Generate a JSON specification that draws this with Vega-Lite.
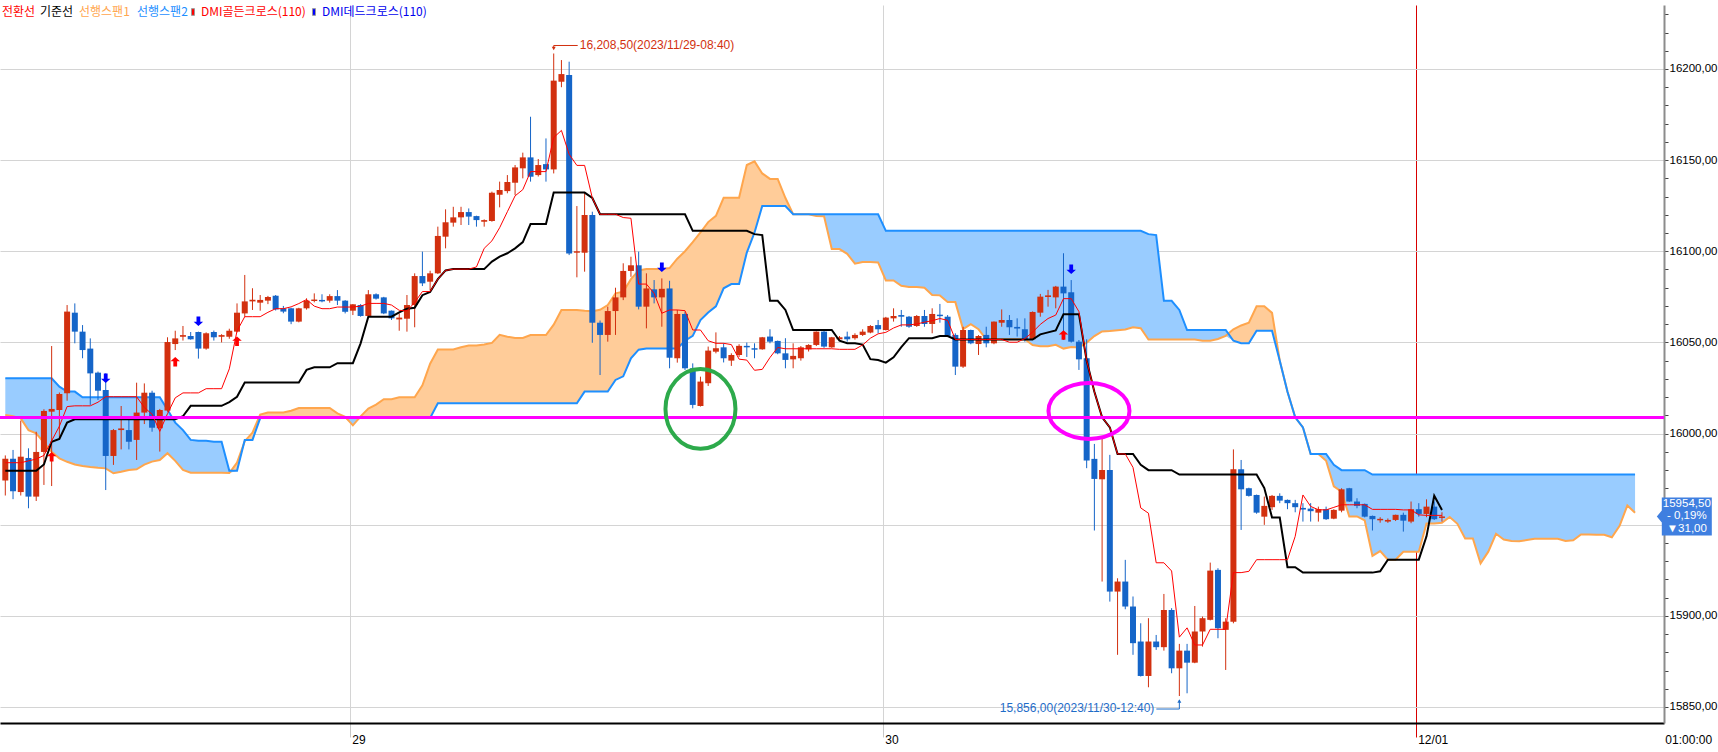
{
"$schema": "https://vega.github.io/schema/vega-lite/v6.json",
"width": 1664,
"height": 718,
"autosize": {"type": "none"},
"padding": {"left": 0, "top": 5, "right": 54, "bottom": 29},
"background": "#FFFFFF",
"config": {"view": {"stroke": null}},
"resolve": {"scale": {"color": "independent"}},
"datasets": {
"candles": [
{"i":0,"o":15974.2,"h":15988,"l":15966,"c":15986.2,"cv":15984,"bs":15979.6},
{"i":1,"o":15986.2,"h":15991,"l":15964,"c":15968.3,"cv":15984,"bs":15979.6},
{"i":2,"o":15967.9,"h":16007.1,"l":15966,"c":15987.3,"cv":15984,"bs":15979.6},
{"i":3,"o":15986.6,"h":15991.9,"l":15959,"c":15965.4,"cv":15985,"bs":15979.6},
{"i":4,"o":15965.4,"h":16001,"l":15963,"c":15989.9,"cv":15986,"bs":15979.6},
{"i":5,"o":15989.9,"h":16013.3,"l":15971.8,"c":16012.4,"cv":15988,"bs":15983},
{"i":6,"o":16012.0,"h":16048,"l":15971.2,"c":16013.5,"cv":15996,"bs":15995.5},
{"i":7,"o":16012.9,"h":16022.5,"l":15997.4,"c":16021.7,"cv":16004,"bs":15997},
{"i":8,"o":16022.1,"h":16070.5,"l":16018,"c":16066.9,"cv":16014.8,"bs":16006},
{"i":9,"o":16066.3,"h":16071.4,"l":16049.5,"c":16055.9,"cv":16015.2,"bs":16007.8},
{"i":10,"o":16055.9,"h":16059.5,"l":16041.3,"c":16045.8,"cv":16015.2,"bs":16007.8},
{"i":11,"o":16046.6,"h":16052.2,"l":16015.7,"c":16033.0,"cv":16015.2,"bs":16007.8},
{"i":12,"o":16033.4,"h":16034,"l":16018.4,"c":16023.5,"cv":16017.2,"bs":16007.8},
{"i":13,"o":16023.9,"h":16033,"l":15969,"c":15987.7,"cv":16020.2,"bs":16007.8},
{"i":14,"o":15987.7,"h":16002.5,"l":15982.8,"c":16001.9,"cv":16020.2,"bs":16007.8},
{"i":15,"o":16001.9,"h":16015.1,"l":15991.3,"c":16002.8,"cv":16020.2,"bs":16007.8},
{"i":16,"o":16001.9,"h":16008,"l":15991.3,"c":15995.5,"cv":16020.2,"bs":16007.8},
{"i":17,"o":15996.5,"h":16027.9,"l":15985.5,"c":16011.5,"cv":16020.2,"bs":16007.8},
{"i":18,"o":16011.5,"h":16027.5,"l":16005.2,"c":16022.4,"cv":16014.3,"bs":16007.8},
{"i":19,"o":16022.4,"h":16023.5,"l":16001,"c":16003.2,"cv":16010.6,"bs":16007.8},
{"i":20,"o":16002.9,"h":16013.5,"l":15990.1,"c":16012.9,"cv":16001.2,"bs":16007.8},
{"i":21,"o":16012.6,"h":16052.8,"l":16012,"c":16050.2,"cv":16010.9,"bs":16007.8},
{"i":22,"o":16049.1,"h":16056.4,"l":16045.8,"c":16052.2,"cv":16019.6,"bs":16007.8},
{"i":23,"o":16053.1,"h":16059,"l":16051,"c":16054.0,"cv":16022.3,"bs":16009.5},
{"i":24,"o":16053.5,"h":16055.7,"l":16051.5,"c":16051.7,"cv":16022.3,"bs":16015.2},
{"i":25,"o":16055.7,"h":16055.9,"l":16041.1,"c":16046.6,"cv":16022.3,"bs":16015.2},
{"i":26,"o":16046.6,"h":16055.5,"l":16046,"c":16055.0,"cv":16024.6,"bs":16015.2},
{"i":27,"o":16055.7,"h":16056.5,"l":16051,"c":16052.8,"cv":16024.6,"bs":16015.2},
{"i":28,"o":16053.1,"h":16054.5,"l":16050,"c":16054.0,"cv":16024.6,"bs":16015.2},
{"i":29,"o":16053.1,"h":16057.5,"l":16052,"c":16056.4,"cv":16035.5,"bs":16017.2},
{"i":30,"o":16055.9,"h":16071.4,"l":16055.5,"c":16066.3,"cv":16056.3,"bs":16020.2},
{"i":31,"o":16065.9,"h":16087,"l":16064,"c":16072.5,"cv":16064.1,"bs":16028.0},
{"i":32,"o":16072.5,"h":16079.7,"l":16067.8,"c":16073.4,"cv":16064.1,"bs":16028.0},
{"i":33,"o":16071.8,"h":16076,"l":16067.4,"c":16073.3,"cv":16064.1,"bs":16028.0},
{"i":34,"o":16072.9,"h":16075.5,"l":16071,"c":16074.9,"cv":16066.5,"bs":16028.0},
{"i":35,"o":16075.6,"h":16076,"l":16067.5,"c":16068.1,"cv":16068.5,"bs":16028.0},
{"i":36,"o":16068.7,"h":16070,"l":16066,"c":16066.9,"cv":16068.5,"bs":16028.0},
{"i":37,"o":16068.7,"h":16069,"l":16060,"c":16061.4,"cv":16069.5,"bs":16028.0},
{"i":38,"o":16061.4,"h":16069,"l":16061,"c":16068.7,"cv":16071.3,"bs":16028.0},
{"i":39,"o":16068.7,"h":16074.2,"l":16068,"c":16072.9,"cv":16073.5,"bs":16034.9},
{"i":40,"o":16072.7,"h":16076.9,"l":16072,"c":16073.5,"cv":16069.9,"bs":16036.3},
{"i":41,"o":16073.3,"h":16076.4,"l":16072,"c":16072.5,"cv":16068.5,"bs":16036.3},
{"i":42,"o":16072.9,"h":16076.4,"l":16071.8,"c":16075.4,"cv":16068.5,"bs":16036.3},
{"i":43,"o":16075.4,"h":16078.7,"l":16070.5,"c":16072.9,"cv":16069.4,"bs":16038.6},
{"i":44,"o":16072.9,"h":16073.2,"l":16065.9,"c":16066.8,"cv":16069.4,"bs":16038.6},
{"i":45,"o":16067.4,"h":16071,"l":16065,"c":16070.9,"cv":16069.4,"bs":16038.6},
{"i":46,"o":16070.5,"h":16071,"l":16064.1,"c":16064.5,"cv":16069.9,"bs":16049.5},
{"i":47,"o":16064.5,"h":16078.7,"l":16064,"c":16076.4,"cv":16071.4,"bs":16064.1},
{"i":48,"o":16076.4,"h":16076.9,"l":16073.5,"c":16074.0,"cv":16071.4,"bs":16064.1},
{"i":49,"o":16074.7,"h":16075,"l":16065.5,"c":16065.9,"cv":16071.4,"bs":16064.1},
{"i":50,"o":16067.4,"h":16067.5,"l":16062.3,"c":16063.2,"cv":16070.5,"bs":16064.1},
{"i":51,"o":16062.6,"h":16065.9,"l":16056.4,"c":16063.6,"cv":16067.6,"bs":16066.5},
{"i":52,"o":16063.0,"h":16076,"l":16055.9,"c":16070.5,"cv":16067.3,"bs":16068.5},
{"i":53,"o":16070.5,"h":16087.9,"l":16058.3,"c":16086.4,"cv":16071.9,"bs":16069.0},
{"i":54,"o":16086.4,"h":16099.8,"l":16080.9,"c":16082.4,"cv":16077.9,"bs":16075.9},
{"i":55,"o":16083.3,"h":16089.3,"l":16078.7,"c":16087.9,"cv":16077.9,"bs":16077.7},
{"i":56,"o":16087.9,"h":16113.5,"l":16087.5,"c":16108.4,"cv":16084.7,"bs":16084.7},
{"i":57,"o":16108.0,"h":16123,"l":16101.6,"c":16115.9,"cv":16089.5,"bs":16089.5},
{"i":58,"o":16115.7,"h":16124.4,"l":16113.5,"c":16118.6,"cv":16090.2,"bs":16090.2},
{"i":59,"o":16118.6,"h":16124.4,"l":16114.4,"c":16121.5,"cv":16090.2,"bs":16090.2},
{"i":60,"o":16121.5,"h":16123.5,"l":16114.4,"c":16119.0,"cv":16090.2,"bs":16090.2},
{"i":61,"o":16119.3,"h":16119.5,"l":16113.5,"c":16117.1,"cv":16091.4,"bs":16090.2},
{"i":62,"o":16116.2,"h":16117.5,"l":16113.5,"c":16117.1,"cv":16101.6,"bs":16090.2},
{"i":63,"o":16116.6,"h":16132.7,"l":16116.2,"c":16132.1,"cv":16105.7,"bs":16094.3},
{"i":64,"o":16131.0,"h":16138.2,"l":16124.1,"c":16133.6,"cv":16112.9,"bs":16097.1},
{"i":65,"o":16133.0,"h":16141.8,"l":16131.8,"c":16138.0,"cv":16121.7,"bs":16098.9},
{"i":66,"o":16137.6,"h":16147.3,"l":16130.8,"c":16146.0,"cv":16130.4,"bs":16101.6},
{"i":67,"o":16145.5,"h":16154.1,"l":16140,"c":16151.5,"cv":16133.8,"bs":16105.0},
{"i":68,"o":16151.5,"h":16173.8,"l":16138.2,"c":16140.9,"cv":16143.7,"bs":16114.9},
{"i":69,"o":16141.8,"h":16150.6,"l":16141,"c":16147.3,"cv":16143.7,"bs":16114.9},
{"i":70,"o":16147.8,"h":16161.9,"l":16138.2,"c":16144.9,"cv":16143.7,"bs":16114.9},
{"i":71,"o":16144.9,"h":16208.5,"l":16142.7,"c":16193.6,"cv":16162.4,"bs":16132.2},
{"i":72,"o":16193.0,"h":16204.9,"l":16190,"c":16197.2,"cv":16166.3,"bs":16132.2},
{"i":73,"o":16196.7,"h":16204,"l":16097.9,"c":16098.8,"cv":16153.2,"bs":16132.2},
{"i":74,"o":16099.2,"h":16124.8,"l":16085.7,"c":16100.0,"cv":16147.1,"bs":16132.2},
{"i":75,"o":16099.2,"h":16131.8,"l":16088.8,"c":16119.9,"cv":16147.1,"bs":16132.2},
{"i":76,"o":16119.9,"h":16121.7,"l":16049.8,"c":16060.8,"cv":16129.2,"bs":16129.2},
{"i":77,"o":16060.8,"h":16062,"l":16032.1,"c":16054.1,"cv":16120.3,"bs":16120.3},
{"i":78,"o":16054.1,"h":16069.6,"l":16050.4,"c":16067.2,"cv":16120.3,"bs":16120.3},
{"i":79,"o":16067.2,"h":16080,"l":16054.1,"c":16074.7,"cv":16120.3,"bs":16120.3},
{"i":80,"o":16074.7,"h":16093.4,"l":16073.2,"c":16089.2,"cv":16118.5,"bs":16120.3},
{"i":81,"o":16089.2,"h":16097,"l":16086,"c":16092.3,"cv":16118.1,"bs":16120.3},
{"i":82,"o":16092.3,"h":16099.8,"l":16068.1,"c":16069.6,"cv":16082.0,"bs":16120.3},
{"i":83,"o":16069.6,"h":16087.9,"l":16057.7,"c":16079.6,"cv":16082.0,"bs":16120.3},
{"i":84,"o":16079.1,"h":16084.2,"l":16071.4,"c":16074.7,"cv":16076.9,"bs":16120.3},
{"i":85,"o":16074.7,"h":16085.1,"l":16058.6,"c":16079.4,"cv":16066.0,"bs":16120.3},
{"i":86,"o":16079.6,"h":16083.8,"l":16035.8,"c":16041.6,"cv":16067.8,"bs":16120.3},
{"i":87,"o":16041.3,"h":16067.8,"l":16038.9,"c":16065.6,"cv":16067.8,"bs":16120.3},
{"i":88,"o":16065.6,"h":16066.8,"l":16034.9,"c":16035.8,"cv":16067.4,"bs":16120.3},
{"i":89,"o":16035.8,"h":16038.5,"l":16013.8,"c":16015.7,"cv":16056.8,"bs":16111.2},
{"i":90,"o":16015.1,"h":16031.2,"l":16014.8,"c":16028.5,"cv":16056.8,"bs":16111.2},
{"i":91,"o":16027.6,"h":16047.7,"l":16026.1,"c":16045.5,"cv":16050.9,"bs":16111.2},
{"i":92,"o":16044.9,"h":16055.5,"l":16044,"c":16046.8,"cv":16049.5,"bs":16111.2},
{"i":93,"o":16047.3,"h":16049.5,"l":16039,"c":16041.3,"cv":16049.5,"bs":16111.2},
{"i":94,"o":16040.0,"h":16044,"l":16037.1,"c":16043.1,"cv":16048.8,"bs":16111.2},
{"i":95,"o":16043.1,"h":16049,"l":16042,"c":16048.1,"cv":16040.8,"bs":16111.2},
{"i":96,"o":16048.1,"h":16049.9,"l":16042,"c":16047.3,"cv":16040.3,"bs":16111.2},
{"i":97,"o":16046.8,"h":16049.5,"l":16041.3,"c":16046.0,"cv":16034.7,"bs":16109.4},
{"i":98,"o":16046.2,"h":16053,"l":16046,"c":16052.8,"cv":16035.2,"bs":16108.9},
{"i":99,"o":16053.2,"h":16057.2,"l":16049.5,"c":16050.4,"cv":16041.7,"bs":16072.8},
{"i":100,"o":16050.8,"h":16051,"l":16043.5,"c":16044.0,"cv":16047.2,"bs":16072.8},
{"i":101,"o":16044.0,"h":16052.3,"l":16035.8,"c":16040.4,"cv":16046.5,"bs":16067.8},
{"i":102,"o":16040.7,"h":16049.5,"l":16035.8,"c":16042.6,"cv":16046.5,"bs":16056.8},
{"i":103,"o":16041.3,"h":16048,"l":16040,"c":16047.3,"cv":16046.5,"bs":16056.8},
{"i":104,"o":16046.2,"h":16049,"l":16045,"c":16048.6,"cv":16046.5,"bs":16056.8},
{"i":105,"o":16048.6,"h":16056,"l":16048,"c":16055.9,"cv":16046.5,"bs":16056.8},
{"i":106,"o":16055.9,"h":16056.5,"l":16047,"c":16047.7,"cv":16046.5,"bs":16056.8},
{"i":107,"o":16047.3,"h":16053,"l":16047,"c":16052.8,"cv":16046.5,"bs":16056.8},
{"i":108,"o":16051.7,"h":16053.5,"l":16051,"c":16052.8,"cv":16046.2,"bs":16050.9},
{"i":109,"o":16053.2,"h":16055.9,"l":16050.4,"c":16051.7,"cv":16046.2,"bs":16049.5},
{"i":110,"o":16052.3,"h":16055,"l":16051.5,"c":16054.1,"cv":16046.2,"bs":16049.5},
{"i":111,"o":16054.1,"h":16057.2,"l":16053.5,"c":16055.9,"cv":16048.6,"bs":16048.8},
{"i":112,"o":16055.4,"h":16059.5,"l":16055,"c":16059.0,"cv":16052.3,"bs":16040.8},
{"i":113,"o":16059.5,"h":16062.3,"l":16055,"c":16057.2,"cv":16054.7,"bs":16040.3},
{"i":114,"o":16056.8,"h":16064,"l":16056.5,"c":16063.6,"cv":16055.5,"bs":16038.9},
{"i":115,"o":16063.2,"h":16068.7,"l":16061.4,"c":16064.5,"cv":16057.9,"bs":16041.8},
{"i":116,"o":16065.0,"h":16067.8,"l":16058.6,"c":16064.1,"cv":16059.6,"bs":16047.4},
{"i":117,"o":16064.1,"h":16064.5,"l":16058,"c":16058.6,"cv":16059.6,"bs":16052.3},
{"i":118,"o":16059.0,"h":16065,"l":16058.5,"c":16064.5,"cv":16060.1,"bs":16052.3},
{"i":119,"o":16064.5,"h":16067.8,"l":16058.6,"c":16060.1,"cv":16061.1,"bs":16052.3},
{"i":120,"o":16060.1,"h":16068.7,"l":16055,"c":16065.6,"cv":16061.9,"bs":16052.3},
{"i":121,"o":16065.2,"h":16071.1,"l":16060.8,"c":16064.4,"cv":16063.1,"bs":16053.5},
{"i":122,"o":16064.1,"h":16065,"l":16053,"c":16053.5,"cv":16062.1,"bs":16053.5},
{"i":123,"o":16054.1,"h":16055,"l":16032.1,"c":16036.7,"cv":16051.6,"bs":16051.6},
{"i":124,"o":16036.7,"h":16058.6,"l":16036,"c":16056.8,"cv":16051.6,"bs":16051.6},
{"i":125,"o":16056.8,"h":16057,"l":16049,"c":16049.5,"cv":16051.6,"bs":16051.6},
{"i":126,"o":16049.1,"h":16054,"l":16043.1,"c":16053.5,"cv":16051.6,"bs":16051.6},
{"i":127,"o":16054.1,"h":16058.6,"l":16047.3,"c":16049.5,"cv":16051.6,"bs":16051.6},
{"i":128,"o":16049.5,"h":16061.5,"l":16049,"c":16061.4,"cv":16051.6,"bs":16051.6},
{"i":129,"o":16060.8,"h":16068.1,"l":16058.6,"c":16062.3,"cv":16051.6,"bs":16051.6},
{"i":130,"o":16062.3,"h":16065,"l":16054.1,"c":16058.3,"cv":16050.1,"bs":16051.6},
{"i":131,"o":16058.5,"h":16063.2,"l":16053.2,"c":16057.6,"cv":16050.1,"bs":16051.6},
{"i":132,"o":16057.2,"h":16063.2,"l":16050.4,"c":16051.7,"cv":16052.1,"bs":16051.6},
{"i":133,"o":16051.7,"h":16067,"l":16051.5,"c":16066.7,"cv":16055.6,"bs":16051.6},
{"i":134,"o":16066.3,"h":16076.6,"l":16064.1,"c":16075.1,"cv":16059.9,"bs":16054.4},
{"i":135,"o":16074.9,"h":16078.8,"l":16069.6,"c":16075.8,"cv":16063.1,"bs":16055.5},
{"i":136,"o":16074.7,"h":16081,"l":16068.7,"c":16080.6,"cv":16065.0,"bs":16056.6},
{"i":137,"o":16080.6,"h":16098.9,"l":16051.3,"c":16076.9,"cv":16074.0,"bs":16065.5},
{"i":138,"o":16077.5,"h":16084.2,"l":16049.9,"c":16050.4,"cv":16074.0,"bs":16065.5},
{"i":139,"o":16050.4,"h":16051.3,"l":16034.9,"c":16040.7,"cv":16066.9,"bs":16065.5},
{"i":140,"o":16041.3,"h":16051.7,"l":15981,"c":15985.2,"cv":16040.0,"bs":16040.0},
{"i":141,"o":15986.1,"h":15994.3,"l":15946.8,"c":15975.1,"cv":16022.9,"bs":16022.9},
{"i":142,"o":15974.9,"h":15997.4,"l":15918.8,"c":15980.0,"cv":16008.9,"bs":16008.9},
{"i":143,"o":15980.0,"h":15988.3,"l":15907.8,"c":15913.3,"cv":16003.4,"bs":16003.4},
{"i":144,"o":15913.3,"h":15920.6,"l":15878.6,"c":15918.8,"cv":15988.8,"bs":15988.8},
{"i":145,"o":15918.8,"h":15930.7,"l":15903.6,"c":15905.1,"cv":15988.8,"bs":15988.8},
{"i":146,"o":15905.1,"h":15910.6,"l":15878.6,"c":15885.0,"cv":15981.4,"bs":15988.8},
{"i":147,"o":15885.9,"h":15895.9,"l":15866.7,"c":15867.0,"cv":15959.2,"bs":15982.8},
{"i":148,"o":15867.0,"h":15898.7,"l":15860.8,"c":15885.9,"cv":15956.3,"bs":15979.9},
{"i":149,"o":15885.9,"h":15889.5,"l":15881.3,"c":15882.8,"cv":15929.1,"bs":15979.9},
{"i":150,"o":15882.8,"h":15912,"l":15880.9,"c":15903.2,"cv":15929.1,"bs":15979.9},
{"i":151,"o":15903.2,"h":15904.2,"l":15868.5,"c":15871.2,"cv":15924.6,"bs":15979.9},
{"i":152,"o":15871.2,"h":15884.6,"l":15856,"c":15880.9,"cv":15888.3,"bs":15977.5},
{"i":153,"o":15880.9,"h":15884.6,"l":15857.5,"c":15874.3,"cv":15893.4,"bs":15977.5},
{"i":154,"o":15874.3,"h":15905.4,"l":15874,"c":15891.4,"cv":15884.0,"bs":15977.5},
{"i":155,"o":15891.4,"h":15899.6,"l":15883.1,"c":15898.7,"cv":15884.0,"bs":15977.5},
{"i":156,"o":15897.8,"h":15929.2,"l":15897.5,"c":15924.8,"cv":15892.6,"bs":15977.5},
{"i":157,"o":15925.2,"h":15926.1,"l":15887.7,"c":15893.2,"cv":15892.6,"bs":15977.5},
{"i":158,"o":15892.3,"h":15898.7,"l":15870.3,"c":15896.8,"cv":15892.6,"bs":15977.5},
{"i":159,"o":15896.8,"h":15991.3,"l":15895.9,"c":15980.4,"cv":15923.7,"bs":15977.5},
{"i":160,"o":15980.4,"h":15985.5,"l":15947.1,"c":15969.4,"cv":15923.7,"bs":15977.5},
{"i":161,"o":15970.0,"h":15970.3,"l":15965.4,"c":15965.8,"cv":15924.4,"bs":15977.5},
{"i":162,"o":15966.3,"h":15966.5,"l":15956,"c":15956.6,"cv":15930.8,"bs":15977.5},
{"i":163,"o":15954.4,"h":15965.4,"l":15949.9,"c":15960.3,"cv":15930.8,"bs":15970.1},
{"i":164,"o":15959.6,"h":15966.3,"l":15958.1,"c":15965.8,"cv":15930.8,"bs":15953.9},
{"i":165,"o":15965.8,"h":15967.2,"l":15961.8,"c":15963.2,"cv":15930.8,"bs":15953.9},
{"i":166,"o":15963.6,"h":15963.8,"l":15958.5,"c":15961.8,"cv":15930.8,"bs":15926.7},
{"i":167,"o":15961.8,"h":15963.6,"l":15956.8,"c":15959.6,"cv":15943.6,"bs":15926.7},
{"i":168,"o":15959.2,"h":15961.8,"l":15951.7,"c":15958.3,"cv":15966.3,"bs":15923.7},
{"i":169,"o":15958.8,"h":15961.8,"l":15951.7,"c":15957.4,"cv":15960.0,"bs":15923.7},
{"i":170,"o":15956.6,"h":15959.9,"l":15951.7,"c":15958.5,"cv":15958.2,"bs":15923.7},
{"i":171,"o":15958.5,"h":15959.9,"l":15952.6,"c":15953.0,"cv":15958.1,"bs":15923.7},
{"i":172,"o":15953.3,"h":15958.5,"l":15953,"c":15958.1,"cv":15959.5,"bs":15923.7},
{"i":173,"o":15957.7,"h":15970,"l":15956.8,"c":15969.4,"cv":15960.9,"bs":15923.7},
{"i":174,"o":15970.0,"h":15970.2,"l":15962.5,"c":15962.7,"cv":15960.9,"bs":15923.7},
{"i":175,"o":15962.7,"h":15964.5,"l":15959,"c":15960.3,"cv":15960.9,"bs":15923.7},
{"i":176,"o":15961.4,"h":15961.6,"l":15954,"c":15954.4,"cv":15960.9,"bs":15923.7},
{"i":177,"o":15954.8,"h":15955,"l":15946.8,"c":15953.0,"cv":15958.4,"bs":15923.7},
{"i":178,"o":15952.4,"h":15954.1,"l":15951.1,"c":15953.2,"cv":15958.4,"bs":15924.4},
{"i":179,"o":15951.7,"h":15953.4,"l":15951,"c":15952.6,"cv":15958.4,"bs":15930.8},
{"i":180,"o":15952.6,"h":15955.5,"l":15952,"c":15955.4,"cv":15958.4,"bs":15930.8},
{"i":181,"o":15955.4,"h":15956.6,"l":15946.2,"c":15952.2,"cv":15958.1,"bs":15930.8},
{"i":182,"o":15951.7,"h":15962.7,"l":15950.8,"c":15958.5,"cv":15958.1,"bs":15930.8},
{"i":183,"o":15958.5,"h":15961.8,"l":15954.4,"c":15955.9,"cv":15955.4,"bs":15930.8},
{"i":184,"o":15955.9,"h":15963.9,"l":15954.1,"c":15959.9,"cv":15955.1,"bs":15943.6},
{"i":185,"o":15959.9,"h":15962.7,"l":15952.6,"c":15953.0,"cv":15955.1,"bs":15965.9},
{"i":186,"o":15953.7,"h":15956.8,"l":15951.7,"c":15954.5,"cv":15955.1,"bs":15958.1}
],
"spans": [
{"j":0,"s1":16010.2,"s2":16030.3},{"j":1,"s1":16009.5,"s2":16030.3},{"j":2,"s1":16008.3,"s2":16030.3},{"j":3,"s1":16001.9,"s2":16030.3},{"j":4,"s1":16000.1,"s2":16030.3},{"j":5,"s1":15995.0,"s2":16030.3},{"j":6,"s1":15990.0,"s2":16030.3},{"j":7,"s1":15986.4,"s2":16025.7},{"j":8,"s1":15984.5,"s2":16023.0},{"j":9,"s1":15983.0,"s2":16023.0},
{"j":10,"s1":15982.2,"s2":16019.9},{"j":11,"s1":15981.6,"s2":16019.9},{"j":12,"s1":15981.2,"s2":16019.9},{"j":13,"s1":15980.9,"s2":16019.9},{"j":14,"s1":15978.2,"s2":16019.9},{"j":15,"s1":15979.0,"s2":16019.9},{"j":16,"s1":15980.0,"s2":16019.9},{"j":17,"s1":15980.4,"s2":16019.9},{"j":18,"s1":15983.0,"s2":16019.9},{"j":19,"s1":15984.6,"s2":16019.9},
{"j":20,"s1":15985.5,"s2":16019.9},{"j":21,"s1":15989.2,"s2":16013.0},{"j":22,"s1":15985.0,"s2":16006.0},{"j":23,"s1":15980.0,"s2":16001.9},{"j":24,"s1":15978.5,"s2":15996.5},{"j":25,"s1":15978.5,"s2":15996.0},{"j":26,"s1":15978.5,"s2":15996.0},{"j":27,"s1":15978.5,"s2":15995.5},{"j":28,"s1":15978.5,"s2":15995.5},{"j":29,"s1":15978.3,"s2":15979.6},
{"j":30,"s1":15984.0,"s2":15979.6},{"j":31,"s1":15995.8,"s2":15996.5},{"j":32,"s1":16000.5,"s2":15996.5},{"j":33,"s1":16010.4,"s2":16008.5},{"j":34,"s1":16011.5,"s2":16008.5},{"j":35,"s1":16011.5,"s2":16008.5},{"j":36,"s1":16011.5,"s2":16008.5},{"j":37,"s1":16012.5,"s2":16008.5},{"j":38,"s1":16014.0,"s2":16008.5},{"j":39,"s1":16014.0,"s2":16008.5},
{"j":40,"s1":16014.0,"s2":16008.5},{"j":41,"s1":16014.0,"s2":16008.5},{"j":42,"s1":16014.0,"s2":16008.5},{"j":43,"s1":16011.1,"s2":16008.5},{"j":44,"s1":16009.2,"s2":16008.5},{"j":45,"s1":16004.5,"s2":16008.5},{"j":46,"s1":16009.4,"s2":16008.5},{"j":47,"s1":16013.7,"s2":16008.5},{"j":48,"s1":16015.9,"s2":16008.5},{"j":49,"s1":16018.8,"s2":16008.5},
{"j":50,"s1":16018.8,"s2":16008.5},{"j":51,"s1":16019.9,"s2":16008.5},{"j":52,"s1":16019.9,"s2":16008.5},{"j":53,"s1":16019.9,"s2":16008.5},{"j":54,"s1":16026.4,"s2":16008.5},{"j":55,"s1":16038.3,"s2":16008.5},{"j":56,"s1":16046.1,"s2":16016.6},{"j":57,"s1":16046.1,"s2":16016.6},{"j":58,"s1":16046.1,"s2":16016.6},{"j":59,"s1":16047.3,"s2":16016.6},
{"j":60,"s1":16048.3,"s2":16016.6},{"j":61,"s1":16048.3,"s2":16016.6},{"j":62,"s1":16048.8,"s2":16016.6},{"j":63,"s1":16049.7,"s2":16016.6},{"j":64,"s1":16054.2,"s2":16016.6},{"j":65,"s1":16053.1,"s2":16016.6},{"j":66,"s1":16052.4,"s2":16016.6},{"j":67,"s1":16052.4,"s2":16016.6},{"j":68,"s1":16054.0,"s2":16016.6},{"j":69,"s1":16054.0,"s2":16016.6},
{"j":70,"s1":16054.0,"s2":16016.6},{"j":71,"s1":16059.7,"s2":16016.6},{"j":72,"s1":16067.8,"s2":16016.6},{"j":73,"s1":16067.8,"s2":16016.6},{"j":74,"s1":16067.8,"s2":16016.6},{"j":75,"s1":16067.3,"s2":16023.0},{"j":76,"s1":16067.1,"s2":16023.0},{"j":77,"s1":16067.9,"s2":16023.0},{"j":78,"s1":16070.5,"s2":16023.0},{"j":79,"s1":16076.9,"s2":16029.4},
{"j":80,"s1":16077.8,"s2":16031.4},{"j":81,"s1":16084.7,"s2":16041.3},{"j":82,"s1":16089.5,"s2":16046.0},{"j":83,"s1":16090.2,"s2":16046.7},{"j":84,"s1":16090.2,"s2":16046.7},{"j":85,"s1":16090.2,"s2":16046.7},{"j":86,"s1":16090.8,"s2":16046.7},{"j":87,"s1":16095.9,"s2":16046.7},{"j":88,"s1":16100.0,"s2":16050.9},{"j":89,"s1":16105.0,"s2":16053.6},
{"j":90,"s1":16110.3,"s2":16062.3},{"j":91,"s1":16116.0,"s2":16066.4},{"j":92,"s1":16119.4,"s2":16069.8},{"j":93,"s1":16129.3,"s2":16079.7},{"j":94,"s1":16129.3,"s2":16082.0},{"j":95,"s1":16129.3,"s2":16082.0},{"j":96,"s1":16147.3,"s2":16099.3},{"j":97,"s1":16149.3,"s2":16110.3},{"j":98,"s1":16142.7,"s2":16124.8},{"j":99,"s1":16139.7,"s2":16124.8},
{"j":100,"s1":16139.7,"s2":16124.8},{"j":101,"s1":16129.2,"s2":16124.8},{"j":102,"s1":16120.3,"s2":16120.3},{"j":103,"s1":16120.3,"s2":16120.3},{"j":104,"s1":16120.3,"s2":16120.3},{"j":105,"s1":16119.4,"s2":16120.3},{"j":106,"s1":16119.2,"s2":16120.3},{"j":107,"s1":16101.2,"s2":16120.3},{"j":108,"s1":16101.2,"s2":16120.3},{"j":109,"s1":16098.6,"s2":16120.3},
{"j":110,"s1":16093.2,"s2":16120.3},{"j":111,"s1":16094.1,"s2":16120.3},{"j":112,"s1":16094.1,"s2":16120.3},{"j":113,"s1":16093.9,"s2":16120.3},{"j":114,"s1":16084.0,"s2":16111.2},{"j":115,"s1":16084.0,"s2":16111.2},{"j":116,"s1":16081.1,"s2":16111.2},{"j":117,"s1":16080.4,"s2":16111.2},{"j":118,"s1":16080.4,"s2":16111.2},{"j":119,"s1":16080.0,"s2":16111.2},
{"j":120,"s1":16076.0,"s2":16111.2},{"j":121,"s1":16075.8,"s2":16111.2},{"j":122,"s1":16072.1,"s2":16111.2},{"j":123,"s1":16072.1,"s2":16111.2},{"j":124,"s1":16057.3,"s2":16111.2},{"j":125,"s1":16060.0,"s2":16111.2},{"j":126,"s1":16057.2,"s2":16111.2},{"j":127,"s1":16051.7,"s2":16111.2},{"j":128,"s1":16051.7,"s2":16111.2},{"j":129,"s1":16051.7,"s2":16111.2},
{"j":130,"s1":16051.7,"s2":16111.2},{"j":131,"s1":16051.7,"s2":16111.2},{"j":132,"s1":16051.7,"s2":16111.2},{"j":133,"s1":16048.6,"s2":16111.2},{"j":134,"s1":16047.9,"s2":16111.2},{"j":135,"s1":16047.9,"s2":16111.2},{"j":136,"s1":16048.7,"s2":16111.2},{"j":137,"s1":16046.6,"s2":16111.2},{"j":138,"s1":16047.5,"s2":16111.2},{"j":139,"s1":16047.2,"s2":16111.2},
{"j":140,"s1":16049.9,"s2":16111.2},{"j":141,"s1":16053.5,"s2":16111.2},{"j":142,"s1":16056.0,"s2":16111.2},{"j":143,"s1":16056.2,"s2":16111.2},{"j":144,"s1":16056.7,"s2":16111.2},{"j":145,"s1":16057.1,"s2":16111.2},{"j":146,"s1":16058.3,"s2":16111.2},{"j":147,"s1":16057.8,"s2":16111.2},{"j":148,"s1":16051.6,"s2":16109.4},{"j":149,"s1":16051.6,"s2":16108.9},
{"j":150,"s1":16051.6,"s2":16072.8},{"j":151,"s1":16051.6,"s2":16072.8},{"j":152,"s1":16051.6,"s2":16067.8},{"j":153,"s1":16051.6,"s2":16056.8},{"j":154,"s1":16051.6,"s2":16056.8},{"j":155,"s1":16050.9,"s2":16056.8},{"j":156,"s1":16050.9,"s2":16056.8},{"j":157,"s1":16051.9,"s2":16056.8},{"j":158,"s1":16053.6,"s2":16056.8},{"j":159,"s1":16057.2,"s2":16050.9},
{"j":160,"s1":16059.3,"s2":16049.5},{"j":161,"s1":16060.8,"s2":16049.5},{"j":162,"s1":16069.8,"s2":16056.4},{"j":163,"s1":16069.8,"s2":16056.4},{"j":164,"s1":16066.2,"s2":16056.4},{"j":165,"s1":16040.0,"s2":16040.0},{"j":166,"s1":16022.9,"s2":16022.9},{"j":167,"s1":16008.9,"s2":16008.9},{"j":168,"s1":16003.4,"s2":16003.4},{"j":169,"s1":15988.8,"s2":15988.8},
{"j":170,"s1":15988.8,"s2":15988.8},{"j":171,"s1":15985.1,"s2":15988.8},{"j":172,"s1":15971.0,"s2":15982.8},{"j":173,"s1":15968.1,"s2":15979.9},{"j":174,"s1":15954.5,"s2":15979.9},{"j":175,"s1":15954.5,"s2":15979.9},{"j":176,"s1":15952.3,"s2":15979.9},{"j":177,"s1":15932.9,"s2":15977.5},{"j":178,"s1":15935.5,"s2":15977.5},{"j":179,"s1":15930.8,"s2":15977.5},
{"j":180,"s1":15930.8,"s2":15977.5},{"j":181,"s1":15935.1,"s2":15977.5},{"j":182,"s1":15935.1,"s2":15977.5},{"j":183,"s1":15935.1,"s2":15977.5},{"j":184,"s1":15950.6,"s2":15977.5},{"j":185,"s1":15950.6,"s2":15977.5},{"j":186,"s1":15951.0,"s2":15977.5},{"j":187,"s1":15954.2,"s2":15977.5},{"j":188,"s1":15950.5,"s2":15977.5},{"j":189,"s1":15942.4,"s2":15977.5},
{"j":190,"s1":15942.4,"s2":15977.5},{"j":191,"s1":15928.8,"s2":15977.5},{"j":192,"s1":15935.2,"s2":15977.5},{"j":193,"s1":15945.0,"s2":15977.5},{"j":194,"s1":15941.9,"s2":15977.5},{"j":195,"s1":15941.0,"s2":15977.5},{"j":196,"s1":15940.9,"s2":15977.5},{"j":197,"s1":15941.6,"s2":15977.5},{"j":198,"s1":15942.3,"s2":15977.5},{"j":199,"s1":15942.3,"s2":15977.5},
{"j":200,"s1":15942.3,"s2":15977.5},{"j":201,"s1":15942.3,"s2":15977.5},{"j":202,"s1":15941.1,"s2":15977.5},{"j":203,"s1":15941.4,"s2":15977.5},{"j":204,"s1":15944.6,"s2":15977.5},{"j":205,"s1":15944.6,"s2":15977.5},{"j":206,"s1":15944.5,"s2":15977.5},{"j":207,"s1":15944.5,"s2":15977.5},{"j":208,"s1":15943.1,"s2":15977.5},{"j":209,"s1":15949.4,"s2":15977.5},
{"j":210,"s1":15960.5,"s2":15977.5},{"j":211,"s1":15956.6,"s2":15977.5}
],
"arrows": [
{"i":6,"price":15987.3,"kind":"gold"},
{"i":13,"price":16030.3,"kind":"dead"},
{"i":22,"price":16039.4,"kind":"gold"},
{"i":25,"price":16061.6,"kind":"dead"},
{"i":30,"price":16050.6,"kind":"gold"},
{"i":85,"price":16091.2,"kind":"dead"},
{"i":137,"price":16054.1,"kind":"gold"},
{"i":138,"price":16090.1,"kind":"dead"}
],
"ann": [
{"i":71,"price":16208.5,"label":"16,208,50(2023/11/29-08:40)","kind":"high"},
{"i":152,"price":15856,"label":"15,856,00(2023/11/30-12:40)","kind":"low"}
],
"rings": [
{"i":90.0,"price":16013.5,"kind":"green"},
{"i":140.3,"price":16012.4,"kind":"magenta"}
],
"last": [
{"price":15954.5,"lines":["15954,50","- 0,19%","▼31,00"]}
]
},
"layer": [
{
"data": {"name": "spans"},
"transform": [{"fold": ["s1","s2"]},{"joinaggregate": [{"op": "min","field": "value","as": "lo"}],"groupby": ["j"]},{"filter": "datum.key === 's1'"}],
"mark": {"type": "area","color": "#FFCC99","opacity": 1,"clip": true},
"encoding": {
"x": {"field": "j","type": "quantitative","title": null,"scale": {"domain": [-0.04, 214.1],"nice": false,"zero": false},
"axis": {"orient": "bottom","values": [44.6,113.6,182.6,214.6],"tickCount": 100,"labelExpr": "datum.value < 60 ? '29' : datum.value < 150 ? '30' : datum.value < 200 ? '12/01' : '01:00:00'","grid": true,
"gridColor": {"condition": {"test": "datum.value > 180 && datum.value < 200","value": "#D80000"},"value": "#D4D4D4"},
"gridOpacity": {"condition": {"test": "datum.value > 214","value": 0},"value": 1},
"domainColor": "#000000","domainWidth": 2,"tickSize": 14,
"tickColor": {"condition": {"test": "datum.value > 180 && datum.value < 200","value": "#D80000"},"value": "#C8C8C8"},
"tickOpacity": {"condition": {"test": "datum.value > 214","value": 0},"value": 1},
"labelAlign": "left","labelBaseline": "top","labelPadding": -3,"labelOffset": 2,"labelFont": "Liberation Sans","labelFontSize": 12,"labelColor": "#000000","labelFlush": false,"labelOverlap": false,"labelBound": false,"title": null}},
"y": {"field": "s1","type": "quantitative","title": null,"scale": {"domain": [15841.2, 16235.1],"nice": false,"zero": false},
"axis": {"orient": "right","values": [15850,15860,15870,15880,15890,15900,15910,15920,15930,15940,15950,15960,15970,15980,15990,16000,16010,16020,16030,16040,16050,16060,16070,16080,16090,16100,16110,16120,16130,16140,16150,16160,16170,16180,16190,16200,16210,16220,16230],
"tickCount": 100,
"labelExpr": "datum.value % 50 === 0 && datum.value !== 15950 ? format(datum.value, 'd') + ',00' : ''","grid": true,"gridColor": "#D4D4D4",
"gridOpacity": {"condition": {"test": "datum.value % 50 === 0","value": 1},"value": 0},
"domainColor": "#8C8C8C","domainWidth": 2,"tickColor": "#444444","tickSize": 4,"labelFont": "Liberation Sans","labelFontSize": 11.5,"labelColor": "#000000","labelPadding": 1,"labelOverlap": false,"labelBound": false,"labelFlush": false,"title": null}},
"y2": {"field": "lo"}
}
},
{
"data": {"name": "spans"},
"transform": [{"fold": ["s1","s2"]},{"joinaggregate": [{"op": "min","field": "value","as": "lo"}],"groupby": ["j"]},{"filter": "datum.key === 's2'"}],
"mark": {"type": "area","color": "#99CCFF","opacity": 1,"clip": true},
"encoding": {
"x": {"field": "j","type": "quantitative","title": null},
"y": {"field": "s2","type": "quantitative","title": null},
"y2": {"field": "lo"}
}
},
{
"data": {"name": "spans"},
"mark": {"type": "line","strokeWidth": 2,"clip": true},
"encoding": {
"x": {"field": "j","type": "quantitative","title": null},
"y": {"field": "s1","type": "quantitative","title": null},
"color": {"datum": "선행스팬1","type": "nominal","scale": {"domain": ["선행스팬1"],"range": ["#FFA64D"]},
"legend": {"orient": "none","legendX": 67,"legendY": 1,"title": null,"labelFont": "Noto Sans CJK KR","labelFontSize": 12,"labelColor": "#FFA64D","labelLimit": 0,"symbolSize": 0,"symbolOpacity": 0,"labelOffset": 0,"padding": 0}}
}
},
{
"data": {"name": "spans"},
"mark": {"type": "line","strokeWidth": 2,"clip": true},
"encoding": {
"x": {"field": "j","type": "quantitative","title": null},
"y": {"field": "s2","type": "quantitative","title": null},
"color": {"datum": "선행스팬2","type": "nominal","scale": {"domain": ["선행스팬2"],"range": ["#1E8FFF"]},
"legend": {"orient": "none","legendX": 125,"legendY": 1,"title": null,"labelFont": "Noto Sans CJK KR","labelFontSize": 12,"labelColor": "#1E8FFF","labelLimit": 0,"symbolSize": 0,"symbolOpacity": 0,"labelOffset": 0,"padding": 0}}
}
},
{
"data": {"name": "candles"},
"mark": {"type": "rule","strokeWidth": 1,"clip": true},
"encoding": {
"x": {"field": "i","type": "quantitative","title": null},
"y": {"field": "l","type": "quantitative","title": null},
"y2": {"field": "h"},
"color": {"condition": {"test": "datum.c >= datum.o","value": "#D2300F"},"value": "#1565C8"}
}
},
{
"data": {"name": "candles"},
"mark": {"type": "bar","width": 6,"clip": true},
"encoding": {
"x": {"field": "i","type": "quantitative","title": null},
"y": {"field": "o","type": "quantitative","title": null},
"y2": {"field": "c"},
"color": {"condition": {"test": "datum.c >= datum.o","value": "#D2300F"},"value": "#1565C8"}
}
},
{
"data": {"name": "candles"},
"mark": {"type": "line","strokeWidth": 2,"clip": true},
"encoding": {
"x": {"field": "i","type": "quantitative","title": null},
"y": {"field": "bs","type": "quantitative","title": null},
"color": {"datum": "기준선","type": "nominal","scale": {"domain": ["기준선"],"range": ["#000000"]},
"legend": {"orient": "none","legendX": 28,"legendY": 1,"title": null,"labelFont": "Noto Sans CJK KR","labelFontSize": 12,"labelColor": "#000000","labelLimit": 0,"symbolSize": 0,"symbolOpacity": 0,"labelOffset": 0,"padding": 0}}
}
},
{
"data": {"name": "candles"},
"mark": {"type": "line","strokeWidth": 1,"clip": true},
"encoding": {
"x": {"field": "i","type": "quantitative","title": null},
"y": {"field": "cv","type": "quantitative","title": null},
"color": {"datum": "전환선","type": "nominal","scale": {"domain": ["전환선"],"range": ["#FF0000"]},
"legend": {"orient": "none","legendX": -10,"legendY": 1,"title": null,"labelFont": "Noto Sans CJK KR","labelFontSize": 12,"labelColor": "#FF0000","labelLimit": 0,"symbolSize": 0,"symbolOpacity": 0,"labelOffset": 0,"padding": 0}}
}
},
{
"data": {"values": [{"level": 16008.8}]},
"mark": {"type": "rule","color": "#FF00FF","strokeWidth": 3,"clip": true},
"encoding": {"y": {"field": "level","type": "quantitative","title": null}}
},
{
"data": {"name": "arrows"},
"transform": [{"filter": "datum.kind === 'gold'"}],
"mark": {"type": "point","shape": "M0,-1L1,-0.1L0.4,-0.1L0.4,1L-0.4,1L-0.4,-0.1L-1,-0.1Z","size": 90,"filled": true,"opacity": 1},
"encoding": {
"x": {"field": "i","type": "quantitative","title": null},
"y": {"field": "price","type": "quantitative","title": null},
"color": {"datum": "DMI골든크로스(110)","type": "nominal","scale": {"domain": ["DMI골든크로스(110)"],"range": ["#FF0000"]},
"legend": {"orient": "none","legendX": 187,"legendY": 1,"title": null,"labelFont": "Noto Sans CJK KR","labelFontSize": 12,"labelColor": "#FF0000","labelLimit": 0,"symbolType": "M-0.45,-1L0.45,-1L0.45,1L-0.45,1Z","symbolSize": 45,"symbolStrokeColor": "#9A9A9A","symbolStrokeWidth": 1,"labelOffset": 2,"padding": 0}}
}
},
{
"data": {"name": "arrows"},
"transform": [{"filter": "datum.kind === 'dead'"}],
"mark": {"type": "point","shape": "M0,1L1,0.1L0.4,0.1L0.4,-1L-0.4,-1L-0.4,0.1L-1,0.1Z","size": 90,"filled": true,"opacity": 1},
"encoding": {
"x": {"field": "i","type": "quantitative","title": null},
"y": {"field": "price","type": "quantitative","title": null},
"color": {"datum": "DMI데드크로스(110)","type": "nominal","scale": {"domain": ["DMI데드크로스(110)"],"range": ["#0000FF"]},
"legend": {"orient": "none","legendX": 308,"legendY": 1,"title": null,"labelFont": "Noto Sans CJK KR","labelFontSize": 12,"labelColor": "#0000EE","labelLimit": 0,"symbolType": "M-0.45,-1L0.45,-1L0.45,1L-0.45,1Z","symbolSize": 45,"symbolStrokeColor": "#9A9A9A","symbolStrokeWidth": 1,"labelOffset": 2,"padding": 0}}
}
},
{
"data": {"name": "ann"},
"transform": [{"filter": "datum.kind === 'high'"}],
"mark": {"type": "rule","color": "#D2300F","strokeWidth": 1,"yOffset": -8,"y2Offset": -5},
"encoding": {"x": {"field": "i","type": "quantitative","title": null},"y": {"field": "price","type": "quantitative","title": null},"y2": {"field": "price"}}
},
{
"data": {"name": "ann"},
"transform": [{"filter": "datum.kind === 'high'"}],
"mark": {"type": "rule","color": "#D2300F","strokeWidth": 1,"yOffset": -8,"x2Offset": 24},
"encoding": {"x": {"field": "i","type": "quantitative","title": null},"x2": {"field": "i"},"y": {"field": "price","type": "quantitative","title": null}}
},
{
"data": {"name": "ann"},
"transform": [{"filter": "datum.kind === 'high'"}],
"mark": {"type": "point","shape": "triangle-down","size": 16,"filled": true,"color": "#D2300F","opacity": 1,"yOffset": -5},
"encoding": {"x": {"field": "i","type": "quantitative","title": null},"y": {"field": "price","type": "quantitative","title": null}}
},
{
"data": {"name": "ann"},
"transform": [{"filter": "datum.kind === 'high'"}],
"mark": {"type": "text","align": "left","baseline": "middle","dx": 26,"dy": -8,"font": "Liberation Sans","fontSize": 12,"color": "#D2300F"},
"encoding": {"x": {"field": "i","type": "quantitative","title": null},"y": {"field": "price","type": "quantitative","title": null},"text": {"field": "label"}}
},
{
"data": {"name": "ann"},
"transform": [{"filter": "datum.kind === 'low'"}],
"mark": {"type": "rule","color": "#1E6CC8","strokeWidth": 1,"yOffset": 4,"y2Offset": 13},
"encoding": {"x": {"field": "i","type": "quantitative","title": null},"y": {"field": "price","type": "quantitative","title": null},"y2": {"field": "price"}}
},
{
"data": {"name": "ann"},
"transform": [{"filter": "datum.kind === 'low'"}],
"mark": {"type": "rule","color": "#1E6CC8","strokeWidth": 1,"yOffset": 13,"x2Offset": -23},
"encoding": {"x": {"field": "i","type": "quantitative","title": null},"x2": {"field": "i"},"y": {"field": "price","type": "quantitative","title": null}}
},
{
"data": {"name": "ann"},
"transform": [{"filter": "datum.kind === 'low'"}],
"mark": {"type": "point","shape": "triangle-up","size": 16,"filled": true,"color": "#1E6CC8","opacity": 1,"yOffset": 5},
"encoding": {"x": {"field": "i","type": "quantitative","title": null},"y": {"field": "price","type": "quantitative","title": null}}
},
{
"data": {"name": "ann"},
"transform": [{"filter": "datum.kind === 'low'"}],
"mark": {"type": "text","align": "right","baseline": "middle","dx": -25,"dy": 11.5,"font": "Liberation Sans","fontSize": 12,"color": "#1E6CC8"},
"encoding": {"x": {"field": "i","type": "quantitative","title": null},"y": {"field": "price","type": "quantitative","title": null},"text": {"field": "label"}}
},
{
"data": {"name": "rings"},
"transform": [{"filter": "datum.kind === 'green'"}],
"mark": {"type": "point","shape": "M-1,0A1,1.14,0,1,1,1,0A1,1.14,0,1,1,-1,0Z","size": 4900,"filled": false,"color": "#2DAA4B","strokeWidth": 4,"opacity": 1},
"encoding": {"x": {"field": "i","type": "quantitative","title": null},"y": {"field": "price","type": "quantitative","title": null}}
},
{
"data": {"name": "rings"},
"transform": [{"filter": "datum.kind === 'magenta'"}],
"mark": {"type": "point","shape": "M-1,0A1,0.69,0,1,1,1,0A1,0.69,0,1,1,-1,0Z","size": 6561,"filled": false,"color": "#FF00FF","strokeWidth": 4,"opacity": 1},
"encoding": {"x": {"field": "i","type": "quantitative","title": null},"y": {"field": "price","type": "quantitative","title": null}}
},
{
"data": {"name": "last"},
"mark": {"type": "point","shape": "M-1.2,0L-1,-0.24L-1,-0.76L1,-0.76L1,0.76L-1,0.76L-1,0.24Z","size": 2500,"filled": true,"color": "#3F7FE0","opacity": 1},
"encoding": {"x": {"datum": 217.7,"type": "quantitative"},"y": {"field": "price","type": "quantitative","title": null}}
},
{
"data": {"name": "last"},
"mark": {"type": "text","align": "center","baseline": "middle","dy": -12.5,"font": "Liberation Sans","fontSize": 11.5,"lineHeight": 12.5,"color": "#FFFFFF"},
"encoding": {"x": {"datum": 217.7,"type": "quantitative"},"y": {"field": "price","type": "quantitative","title": null},"text": {"field": "lines"}}
}
]
}
